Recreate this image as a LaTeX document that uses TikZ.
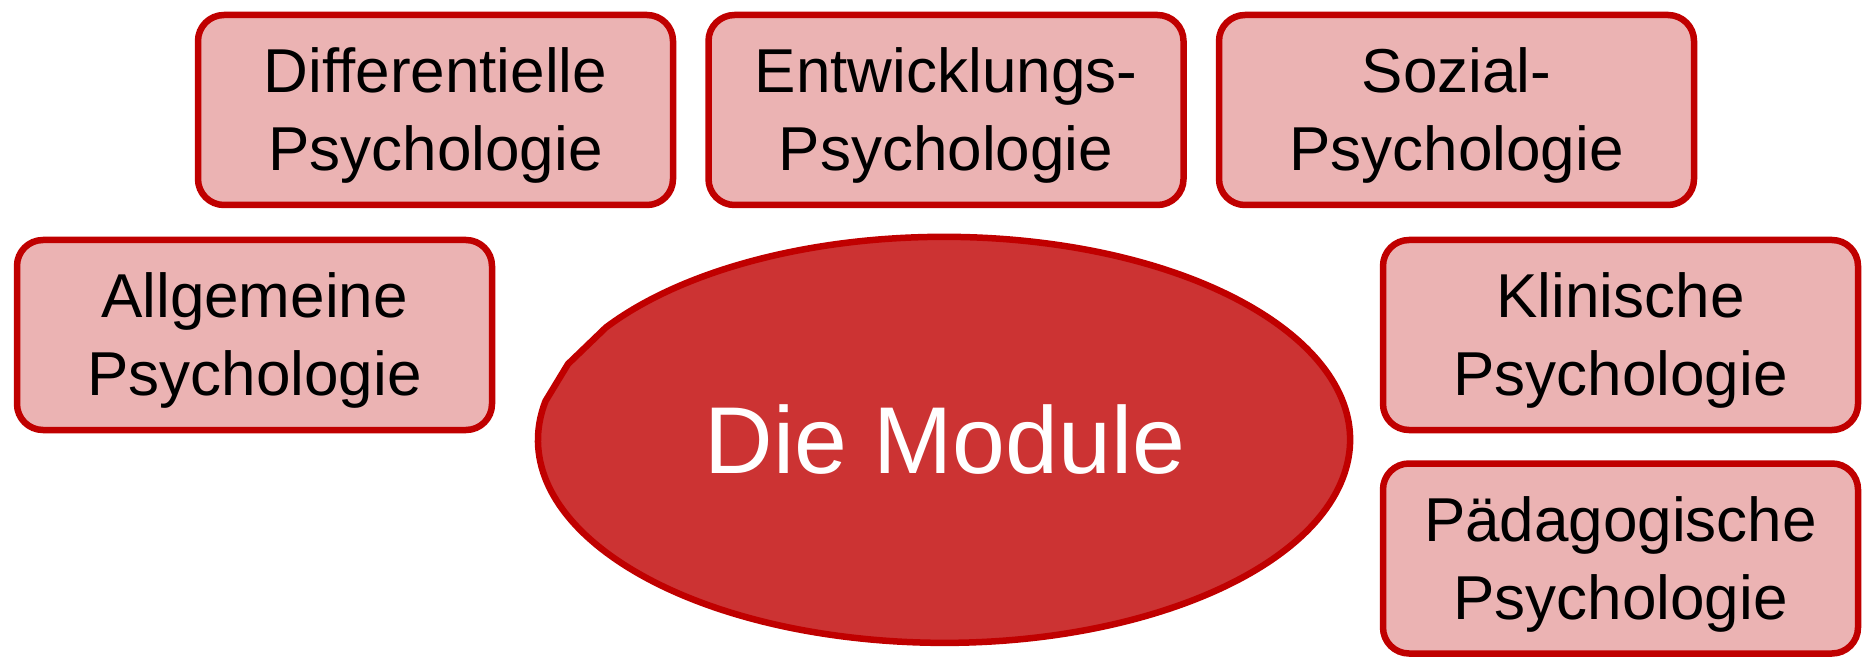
\documentclass[tikz,border=0pt]{standalone}
\usepackage{fontspec}
\setmainfont{Liberation Sans}
\definecolor{boxfill}{RGB}{235,179,179}
\definecolor{edge}{RGB}{192,0,0}
\definecolor{ellfill}{RGB}{204,51,51}
\newcommand{\twolines}[2]{\raisebox{-6pt}[\height][\depth]{\begin{tabular}{@{}c@{}}#1\\#2\end{tabular}}}
\begin{document}
\begin{tikzpicture}[x=1pt,y=1pt,
  modbox/.style={draw=edge,fill=boxfill,line width=6.5pt,rounded corners=26pt,
    minimum width=475pt,minimum height=190pt,inner sep=0pt,align=center,
    font=\fontsize{62}{78}\selectfont,text=black},
  ellstyle/.style={draw=edge,fill=ellfill,line width=6.5pt,line join=round}]
\useasboundingbox (0,0) rectangle (1867,659);
% central ellipse with cut corner
\coordinate (eA) at (605,332);
\coordinate (eB) at (568,295);
\coordinate (eC) at (545.5,257.9);
\draw[ellstyle] (eC) arc[start angle=169,end angle=506.4,x radius=406,y radius=203] -- (eB) -- cycle;
\node[text=white,font=\fontsize{95}{110}\selectfont] (center) at (945,219) {Die Module};
% module boxes
\node[modbox] (diff) at (435.5,549) {\twolines{Differentielle}{Psychologie}};
\node[modbox] (entw) at (946,549) {\twolines{Entwicklungs-}{Psychologie}};
\node[modbox] (soz) at (1456.5,549) {\twolines{Sozial-}{Psychologie}};
\node[modbox] (allg) at (254.5,324) {\twolines{Allgemeine}{Psychologie}};
\node[modbox] (klin) at (1620.5,324) {\twolines{Klinische}{Psychologie}};
\node[modbox] (paed) at (1620.5,100.5) {\twolines{Pädagogische}{Psychologie}};
\end{tikzpicture}
\end{document}
